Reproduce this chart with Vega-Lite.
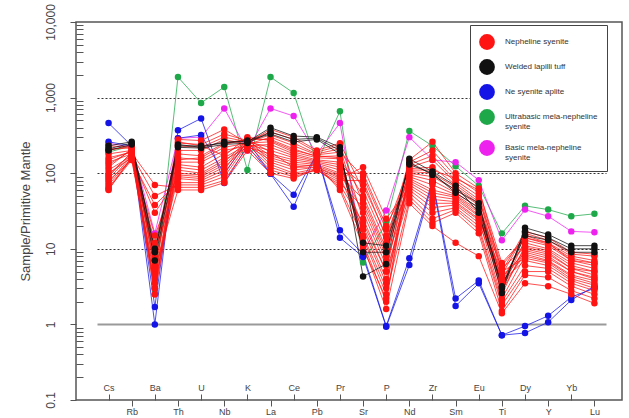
{
  "$schema": "https://vega.github.io/schema/vega-lite/v6.json",
  "width": 546,
  "height": 378,
  "autosize": {"type": "none"},
  "padding": {"left": 76, "top": 22, "right": 7, "bottom": 18},
  "background": "white",
  "config": {
    "font": "Liberation Sans",
    "view": {"stroke": "#555", "strokeWidth": 1.5}
  },
  "data": {
    "values": [
      {"id": "g1", "group": "Ultrabasic mela-nepheline syenite", "Cs": 190, "Rb": 230, "Ba": 2.85, "Th": 1870, "U": 850, "Nb": 1380, "K": 110, "La": 1870, "Ce": 1150, "Pb": 136, "Pr": 660, "Sr": 6.6, "P": 22, "Nd": 362, "Zr": 230, "Sm": 124, "Eu": 68, "Ti": 16, "Dy": 37, "Y": 33, "Yb": 27, "Lu": 29},
      {"id": "m1", "group": "Basic mela-nepheline syenite", "Cs": 250, "Rb": 220, "Ba": 16, "Th": 290, "U": 300, "Nb": 720, "K": 200, "La": 720, "Ce": 570, "Pb": 180, "Pr": 460, "Sr": 9, "P": 32, "Nd": 300, "Zr": 150, "Sm": 140, "Eu": 81, "Ti": 13, "Dy": 33, "Y": 27, "Yb": 17, "Lu": 16.5},
      {"id": "a1", "group": "Ne syenite aplite", "Cs": 460, "Rb": 230, "Ba": 1.0, "Th": 370, "U": 530, "Nb": 74, "K": 230, "La": 98, "Ce": 36, "Pb": 185, "Pr": 14, "Sr": 7.8, "P": 0.93, "Nd": 6.1, "Zr": 75, "Sm": 1.75, "Eu": 3.5, "Ti": 0.72, "Dy": 0.77, "Y": 1.07, "Yb": 2.1, "Lu": 3.2},
      {"id": "a2", "group": "Ne syenite aplite", "Cs": 260, "Rb": 230, "Ba": 1.7, "Th": 290, "U": 320, "Nb": 98, "K": 270, "La": 98, "Ce": 52, "Pb": 180, "Pr": 17.6, "Sr": 8.5, "P": 0.95, "Nd": 7.5, "Zr": 80, "Sm": 2.2, "Eu": 3.8, "Ti": 0.72, "Dy": 0.95, "Y": 1.3, "Yb": 2.3, "Lu": 3.0},
      {"id": "r1", "group": "Nepheline syenite", "Cs": 230, "Rb": 220, "Ba": 8, "Th": 280, "U": 270, "Nb": 380, "K": 250, "La": 380, "Ce": 300, "Pb": 200, "Pr": 250, "Sr": 60, "P": 12, "Nd": 150, "Zr": 260, "Sm": 100, "Eu": 63, "Ti": 5, "Dy": 17, "Y": 14, "Yb": 9, "Lu": 8.5},
      {"id": "r2", "group": "Nepheline syenite", "Cs": 200, "Rb": 230, "Ba": 5, "Th": 250, "U": 240, "Nb": 330, "K": 270, "La": 350, "Ce": 280, "Pb": 190, "Pr": 230, "Sr": 40, "P": 8, "Nd": 140, "Zr": 200, "Sm": 90, "Eu": 55, "Ti": 4.5, "Dy": 16, "Y": 13, "Yb": 8.5, "Lu": 8},
      {"id": "r3", "group": "Nepheline syenite", "Cs": 180, "Rb": 200, "Ba": 3, "Th": 230, "U": 220, "Nb": 300, "K": 260, "La": 320, "Ce": 250, "Pb": 180, "Pr": 210, "Sr": 25, "P": 5, "Nd": 130, "Zr": 170, "Sm": 80, "Eu": 50, "Ti": 3.5, "Dy": 15, "Y": 12, "Yb": 8, "Lu": 7},
      {"id": "r4", "group": "Nepheline syenite", "Cs": 160, "Rb": 190, "Ba": 12, "Th": 200, "U": 200, "Nb": 280, "K": 240, "La": 300, "Ce": 230, "Pb": 175, "Pr": 190, "Sr": 90, "P": 18, "Nd": 120, "Zr": 150, "Sm": 75, "Eu": 45, "Ti": 6, "Dy": 14, "Y": 11.5, "Yb": 7.5, "Lu": 6.5},
      {"id": "r5", "group": "Nepheline syenite", "Cs": 140, "Rb": 180, "Ba": 4, "Th": 180, "U": 170, "Nb": 250, "K": 280, "La": 280, "Ce": 210, "Pb": 165, "Pr": 170, "Sr": 15, "P": 3, "Nd": 115, "Zr": 120, "Sm": 70, "Eu": 42, "Ti": 3, "Dy": 13, "Y": 11, "Yb": 7, "Lu": 6},
      {"id": "r6", "group": "Nepheline syenite", "Cs": 120, "Rb": 210, "Ba": 6, "Th": 160, "U": 150, "Nb": 220, "K": 250, "La": 260, "Ce": 190, "Pb": 160, "Pr": 155, "Sr": 50, "P": 10, "Nd": 105, "Zr": 100, "Sm": 65, "Eu": 40, "Ti": 4, "Dy": 12, "Y": 10, "Yb": 6.5, "Lu": 5.5},
      {"id": "r7", "group": "Nepheline syenite", "Cs": 110, "Rb": 170, "Ba": 2.5, "Th": 140, "U": 140, "Nb": 200, "K": 230, "La": 240, "Ce": 180, "Pb": 150, "Pr": 140, "Sr": 12, "P": 2, "Nd": 100, "Zr": 90, "Sm": 60, "Eu": 38, "Ti": 2.5, "Dy": 11, "Y": 9.5, "Yb": 6, "Lu": 5},
      {"id": "r8", "group": "Nepheline syenite", "Cs": 100, "Rb": 160, "Ba": 10, "Th": 130, "U": 120, "Nb": 180, "K": 260, "La": 220, "Ce": 170, "Pb": 145, "Pr": 130, "Sr": 70, "P": 15, "Nd": 95, "Zr": 80, "Sm": 55, "Eu": 35, "Ti": 5.5, "Dy": 10.5, "Y": 9, "Yb": 5.5, "Lu": 5},
      {"id": "r9", "group": "Nepheline syenite", "Cs": 90, "Rb": 190, "Ba": 7, "Th": 120, "U": 110, "Nb": 160, "K": 240, "La": 200, "Ce": 160, "Pb": 140, "Pr": 120, "Sr": 30, "P": 6, "Nd": 90, "Zr": 70, "Sm": 52, "Eu": 32, "Ti": 3.5, "Dy": 10, "Y": 8.5, "Yb": 5.5, "Lu": 4.5},
      {"id": "r10", "group": "Nepheline syenite", "Cs": 80, "Rb": 150, "Ba": 3.5, "Th": 110, "U": 100, "Nb": 150, "K": 220, "La": 180, "Ce": 150, "Pb": 135, "Pr": 110, "Sr": 20, "P": 4, "Nd": 85, "Zr": 60, "Sm": 50, "Eu": 30, "Ti": 2.8, "Dy": 9.5, "Y": 8, "Yb": 5, "Lu": 4.2},
      {"id": "r11", "group": "Nepheline syenite", "Cs": 75, "Rb": 170, "Ba": 15, "Th": 100, "U": 95, "Nb": 140, "K": 270, "La": 170, "Ce": 140, "Pb": 130, "Pr": 100, "Sr": 100, "P": 20, "Nd": 80, "Zr": 55, "Sm": 48, "Eu": 28, "Ti": 4.2, "Dy": 9, "Y": 7.5, "Yb": 5, "Lu": 4},
      {"id": "r12", "group": "Nepheline syenite", "Cs": 70, "Rb": 160, "Ba": 9, "Th": 95, "U": 90, "Nb": 130, "K": 250, "La": 160, "Ce": 130, "Pb": 125, "Pr": 95, "Sr": 45, "P": 9, "Nd": 75, "Zr": 50, "Sm": 45, "Eu": 27, "Ti": 3.2, "Dy": 8.5, "Y": 7, "Yb": 4.5, "Lu": 3.8},
      {"id": "r13", "group": "Nepheline syenite", "Cs": 65, "Rb": 155, "Ba": 4.5, "Th": 90, "U": 85, "Nb": 120, "K": 230, "La": 150, "Ce": 120, "Pb": 120, "Pr": 90, "Sr": 18, "P": 3.5, "Nd": 70, "Zr": 45, "Sm": 42, "Eu": 25, "Ti": 2.2, "Dy": 8, "Y": 6.8, "Yb": 4.3, "Lu": 3.5},
      {"id": "r14", "group": "Nepheline syenite", "Cs": 60, "Rb": 165, "Ba": 30, "Th": 85, "U": 80, "Nb": 110, "K": 290, "La": 140, "Ce": 110, "Pb": 120, "Pr": 85, "Sr": 120, "P": 25, "Nd": 65, "Zr": 40, "Sm": 40, "Eu": 24, "Ti": 5, "Dy": 7.5, "Y": 6.5, "Yb": 4, "Lu": 3.3},
      {"id": "r15", "group": "Nepheline syenite", "Cs": 62, "Rb": 150, "Ba": 38, "Th": 75, "U": 75, "Nb": 100, "K": 260, "La": 130, "Ce": 100, "Pb": 115, "Pr": 80, "Sr": 80, "P": 14, "Nd": 60, "Zr": 35, "Sm": 38, "Eu": 22, "Ti": 3.8, "Dy": 7, "Y": 6, "Yb": 3.8, "Lu": 3},
      {"id": "r16", "group": "Nepheline syenite", "Cs": 85, "Rb": 175, "Ba": 50, "Th": 70, "U": 70, "Nb": 90, "K": 240, "La": 120, "Ce": 95, "Pb": 110, "Pr": 75, "Sr": 35, "P": 7, "Nd": 55, "Zr": 30, "Sm": 35, "Eu": 20, "Ti": 2, "Dy": 6, "Y": 5.5, "Yb": 3.5, "Lu": 2.8},
      {"id": "r17", "group": "Nepheline syenite", "Cs": 95, "Rb": 185, "Ba": 70, "Th": 65, "U": 65, "Nb": 80, "K": 220, "La": 110, "Ce": 90, "Pb": 110, "Pr": 70, "Sr": 22, "P": 5, "Nd": 50, "Zr": 25, "Sm": 33, "Eu": 18, "Ti": 1.8, "Dy": 5, "Y": 5, "Yb": 3.2, "Lu": 2.5},
      {"id": "r18", "group": "Nepheline syenite", "Cs": 130, "Rb": 200, "Ba": 5.5, "Th": 60, "U": 60, "Nb": 75, "K": 200, "La": 100, "Ce": 85, "Pb": 115, "Pr": 65, "Sr": 14, "P": 2.5, "Nd": 45, "Zr": 22, "Sm": 30, "Eu": 16, "Ti": 1.5, "Dy": 4.5, "Y": 4.2, "Yb": 2.8, "Lu": 2.2},
      {"id": "r19", "group": "Nepheline syenite", "Cs": 150, "Rb": 195, "Ba": 3, "Th": 150, "U": 160, "Nb": 240, "K": 280, "La": 190, "Ce": 120, "Pb": 130, "Pr": 60, "Sr": 11, "P": 1.6, "Nd": 40, "Zr": 20, "Sm": 12, "Eu": 8, "Ti": 1.4, "Dy": 3.5, "Y": 3.2, "Yb": 2.5, "Lu": 1.9},
      {"id": "r20", "group": "Nepheline syenite", "Cs": 210, "Rb": 215, "Ba": 2.5, "Th": 260, "U": 230, "Nb": 170, "K": 300, "La": 270, "Ce": 200, "Pb": 170, "Pr": 160, "Sr": 10, "P": 2.2, "Nd": 110, "Zr": 110, "Sm": 85, "Eu": 60, "Ti": 6.5, "Dy": 14, "Y": 12, "Yb": 7, "Lu": 6.5},
      {"id": "b1", "group": "Welded lapilli tuff", "Cs": 230, "Rb": 260, "Ba": 9, "Th": 240, "U": 220, "Nb": 260, "K": 260, "La": 400, "Ce": 310, "Pb": 300, "Pr": 220, "Sr": 4.3, "P": 6.3, "Nd": 155, "Zr": 105, "Sm": 68, "Eu": 30, "Ti": 2.6, "Dy": 19, "Y": 15.5, "Yb": 11, "Lu": 11},
      {"id": "b2", "group": "Welded lapilli tuff", "Cs": 200, "Rb": 240, "Ba": 7, "Th": 220, "U": 215, "Nb": 240, "K": 250, "La": 350, "Ce": 280, "Pb": 290, "Pr": 200, "Sr": 9, "P": 9, "Nd": 140, "Zr": 95, "Sm": 60, "Eu": 40, "Ti": 3, "Dy": 17, "Y": 14, "Yb": 10, "Lu": 10},
      {"id": "b3", "group": "Welded lapilli tuff", "Cs": 210, "Rb": 250, "Ba": 10, "Th": 230, "U": 230, "Nb": 250, "K": 270, "La": 330, "Ce": 260, "Pb": 280, "Pr": 180, "Sr": 12, "P": 11, "Nd": 130, "Zr": 100, "Sm": 55, "Eu": 35, "Ti": 3.2, "Dy": 15, "Y": 13, "Yb": 9, "Lu": 9}
    ]
  },
  "transform": [
    {"fold": ["Cs", "Rb", "Ba", "Th", "U", "Nb", "K", "La", "Ce", "Pb", "Pr", "Sr", "P", "Nd", "Zr", "Sm", "Eu", "Ti", "Dy", "Y", "Yb", "Lu"], "as": ["element", "ratio"]}
  ],
  "layer": [
    {
      "mark": {"type": "line", "strokeWidth": 1, "strokeOpacity": 0.75},
      "encoding": {
        "x": {
          "field": "element", "type": "nominal",
          "scale": {"type": "point", "domain": ["Cs", "Rb", "Ba", "Th", "U", "Nb", "K", "La", "Ce", "Pb", "Pr", "Sr", "P", "Nd", "Zr", "Sm", "Eu", "Ti", "Dy", "Y", "Yb", "Lu"], "range": [21, 530]},
          "axis": {
            "orient": "bottom", "title": null, "domain": false, "grid": false,
            "values": ["Rb", "Th", "Nb", "La", "Pb", "Sr", "Nd", "Sm", "Ti", "Y", "Lu"],
            "labelAngle": 0, "labelFontSize": 9, "labelColor": "#444", "labelPadding": 1,
            "tickSize": 6, "tickColor": "#555", "tickWidth": 1
          }
        },
        "y": {
          "field": "ratio", "type": "quantitative",
          "scale": {"type": "log", "domain": [0.1, 10000]},
          "axis": {
            "orient": "left", "title": "Sample/Primitive Mantle",
            "titleFontSize": 13, "titleFontWeight": "normal", "titleColor": "#444", "titlePadding": 12,
            "values": [0.1, 1, 10, 100, 1000, 10000], "format": ",",
            "labelAngle": -90, "labelAlign": "center", "labelBaseline": "bottom",
            "labelFontSize": 12, "labelColor": "#444", "labelPadding": 13,
            "tickSize": 6, "tickColor": "#555", "domain": false,
            "grid": true,
            "gridColor": {"condition": {"test": "datum.value === 1", "value": "#9a9a9a"}, "value": "#333"},
            "gridWidth": {"condition": {"test": "datum.value === 1", "value": 2}, "value": 1},
            "gridDash": {"condition": {"test": "datum.value === 1", "value": []}, "value": [2, 2]},
            "gridOpacity": {"condition": {"test": "datum.value < 0.5 || datum.value > 5000", "value": 0}, "value": 1}
          }
        },
        "color": {
          "field": "group", "type": "nominal",
          "scale": {
            "domain": ["Nepheline syenite", "Welded lapilli tuff", "Ne syenite aplite", "Ultrabasic mela-nepheline syenite", "Basic mela-nepheline syenite"],
            "range": ["#ff1414", "#111111", "#1414e6", "#1fa84a", "#ee22ee"]
          }
        },
        "detail": {"field": "id"}
      }
    },
    {
      "mark": {"type": "circle", "size": 42, "opacity": 1},
      "encoding": {
        "x": {
          "field": "element", "type": "nominal",
          "scale": {"type": "point", "domain": ["Cs", "Rb", "Ba", "Th", "U", "Nb", "K", "La", "Ce", "Pb", "Pr", "Sr", "P", "Nd", "Zr", "Sm", "Eu", "Ti", "Dy", "Y", "Yb", "Lu"], "range": [21, 530]},
          "axis": {
            "orient": "top", "offset": -378, "title": null, "domain": false, "grid": false,
            "values": ["Cs", "Ba", "U", "K", "Ce", "Pr", "P", "Zr", "Eu", "Dy", "Yb"],
            "labelAngle": 0, "labelFontSize": 9, "labelColor": "#444", "labelPadding": 2,
            "tickSize": 6, "tickColor": "#555", "tickWidth": 1
          }
        },
        "y": {
          "field": "ratio", "type": "quantitative",
          "scale": {"type": "log", "domain": [0.1, 10000]},
          "axis": {
            "orient": "right", "offset": -546, "title": null, "labels": false, "domain": false, "grid": false,
            "values": [0.2, 0.3, 0.4, 0.5, 0.6, 0.7, 0.8, 0.9, 2, 3, 4, 5, 6, 7, 8, 9, 20, 30, 40, 50, 60, 70, 80, 90, 200, 300, 400, 500, 600, 700, 800, 900, 2000, 3000, 4000, 5000, 6000, 7000, 8000, 9000],
            "tickSize": 7, "tickColor": "#555", "tickWidth": 1
          }
        },
        "color": {
          "field": "group", "type": "nominal",
          "legend": {
            "title": null, "orient": "none", "legendX": 394, "legendY": 3,
            "direction": "vertical", "symbolType": "circle", "symbolSize": 250,
            "symbolStrokeWidth": 0, "symbolOpacity": 1, "symbolFillOpacity": 1,
            "labelFontSize": 8, "labelColor": "#333", "labelLimit": 130, "labelOffset": 10,
            "padding": 9, "rowPadding": 9,
            "strokeColor": "#444", "fillColor": "white",
            "labelExpr": "datum.label == 'Ultrabasic mela-nepheline syenite' ? ['Ultrabasic mela-nepheline', 'syenite'] : datum.label == 'Basic mela-nepheline syenite' ? ['Basic mela-nepheline', 'syenite'] : datum.label"
          }
        },
        "detail": {"field": "id"}
      }
    }
  ],
  "resolve": {"axis": {"x": "independent", "y": "independent"}}
}
